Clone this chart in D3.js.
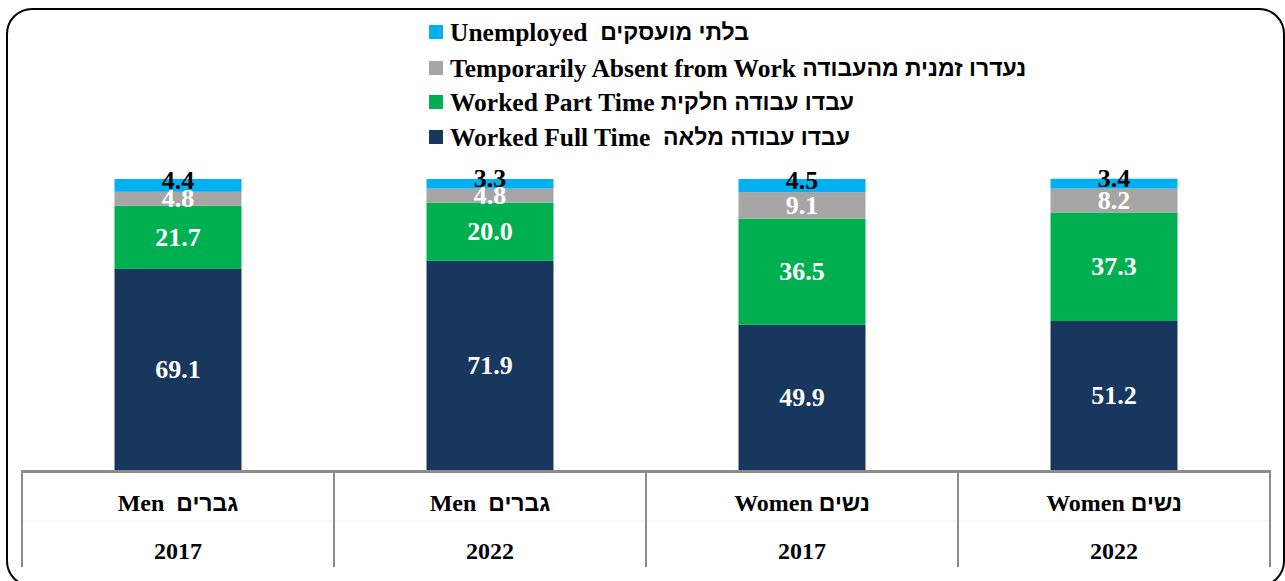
<!DOCTYPE html>
<html>
<head>
<meta charset="utf-8">
<script src="https://cdn.jsdelivr.net/npm/d3@7"></script>
<style>
  html, body { margin: 0; padding: 0; background: #fff; }
  svg { display: block; }
  text { font-family: "Liberation Serif", "Times New Roman", serif; font-weight: bold; }
  tspan.he { font-family: "Liberation Sans", Arial, "DejaVu Sans", sans-serif; font-weight: bold; }
</style>
</head>
<body>
<script>
const categories = ["Men 2017", "Men 2022", "Women 2017", "Women 2022"];
const groupEn = ["Men", "Men", "Women", "Women"];
const groupHe = ["גברים", "גברים", "נשים", "נשים"];
const yearLabels = ["2017", "2022", "2017", "2022"];

const fullTime   = [69.1, 71.9, 49.9, 51.2];
const partTime   = [21.7, 20.0, 36.5, 37.3];
const absent     = [4.8, 4.8, 9.1, 8.2];
const unemployed = [4.4, 3.3, 4.5, 3.4];

const seriesKeys = ["fullTime", "partTime", "absent", "unemployed"];
const seriesEn = {
  unemployed: "Unemployed  ",
  absent: "Temporarily Absent from Work ",
  partTime: "Worked Part Time ",
  fullTime: "Worked Full Time  "
};
const seriesHe = {
  unemployed: "בלתי מועסקים",
  absent: "נעדרו זמנית מהעבודה",
  partTime: "עבדו עבודה חלקית",
  fullTime: "עבדו עבודה מלאה"
};
const legendOrder = ["unemployed", "absent", "partTime", "fullTime"];
const colors = { fullTime: "#17375E", partTime: "#00B050", absent: "#A6A6A6", unemployed: "#00B0F0" };
const labelColors = { fullTime: "#fff", partTime: "#fff", absent: "#fff", unemployed: "#000" };

const W = 1285, H = 581;
const tableLeft = 22, tableRight = 1270, baseY = 470;

const rows = categories.map((c, i) => ({
  cat: c, fullTime: fullTime[i], partTime: partTime[i], absent: absent[i], unemployed: unemployed[i]
}));
const stacked = d3.stack().keys(seriesKeys)(rows);

const svg = d3.select("body").append("svg").attr("width", W).attr("height", H);

// outer rounded frame
svg.append("rect").attr("x", 7).attr("y", 9).attr("width", 1277).attr("height", 577)
  .attr("rx", 25).attr("ry", 25).attr("fill", "none").attr("stroke", "#000").attr("stroke-width", 2);

const x = d3.scaleBand().domain(categories).range([tableLeft, tableRight])
  .paddingInner(0.593).paddingOuter(0.2965);
const y = d3.scaleLinear().domain([0, 100]).range([baseY, 179]);

const g = svg.append("g");
stacked.forEach(layer => {
  const key = layer.key;
  g.selectAll(null).data(layer).enter().append("rect")
    .attr("x", d => x(d.data.cat))
    .attr("width", x.bandwidth())
    .attr("y", d => y(d[1]))
    .attr("height", d => y(d[0]) - y(d[1]))
    .attr("fill", colors[key]);
});
stacked.forEach(layer => {
  const key = layer.key;
  g.selectAll(null).data(layer).enter().append("text")
    .attr("x", d => x(d.data.cat) + x.bandwidth() / 2)
    .attr("y", d => (y(d[0]) + y(d[1])) / 2 + (key === "unemployed" ? -5 : 0))
    .attr("text-anchor", "middle")
    .attr("dominant-baseline", "central")
    .attr("font-size", 26)
    .attr("fill", labelColors[key])
    .text(d => d3.format(".1f")(d.data[key]));
});

// table lines
const tbl = svg.append("g");
tbl.append("line").attr("x1", tableLeft).attr("x2", tableRight).attr("y1", 521).attr("y2", 521)
  .attr("stroke", "#efefef").attr("stroke-width", 1);
const edges = [tableLeft].concat(categories.map(c => x(c) - x.step() * x.paddingInner() / 2 + x.step()));
edges.forEach(ex => {
  tbl.append("line").attr("x1", ex).attr("x2", ex).attr("y1", baseY).attr("y2", 567)
    .attr("stroke", "#8c8c8c").attr("stroke-width", 2);
});
tbl.append("line").attr("x1", tableLeft - 1).attr("x2", tableRight + 1).attr("y1", baseY + 1.5).attr("y2", baseY + 1.5)
  .attr("stroke", "#8c8c8c").attr("stroke-width", 3);

categories.forEach((c, i) => {
  const cx = x(c) + x.bandwidth() / 2;
  const t = tbl.append("text").attr("x", cx).attr("y", 503).attr("text-anchor", "middle")
    .attr("dominant-baseline", "central").attr("font-size", 24).style("white-space", "pre");
  t.append("tspan").text(groupEn[i] + (groupEn[i] === "Men" ? "  " : " "));
  t.append("tspan").attr("class", "he").attr("font-size", 23).text(groupHe[i]);
  tbl.append("text").attr("x", cx).attr("y", 551).attr("text-anchor", "middle")
    .attr("dominant-baseline", "central").attr("font-size", 24)
    .text(yearLabels[i]);
});

// legend
const legendY = [32, 68, 102, 137];
const lg = svg.append("g");
legendOrder.forEach((k, i) => {
  lg.append("rect").attr("x", 429).attr("y", legendY[i] - 7).attr("width", 14).attr("height", 14)
    .attr("fill", colors[k]);
  const t = lg.append("text").attr("x", 450).attr("y", legendY[i]).attr("dominant-baseline", "central")
    .attr("font-size", 25.5).style("white-space", "pre");
  t.append("tspan").text(seriesEn[k]);
  t.append("tspan").attr("class", "he").attr("font-size", 23).text(seriesHe[k]);
});
</script>
</body>
</html>
